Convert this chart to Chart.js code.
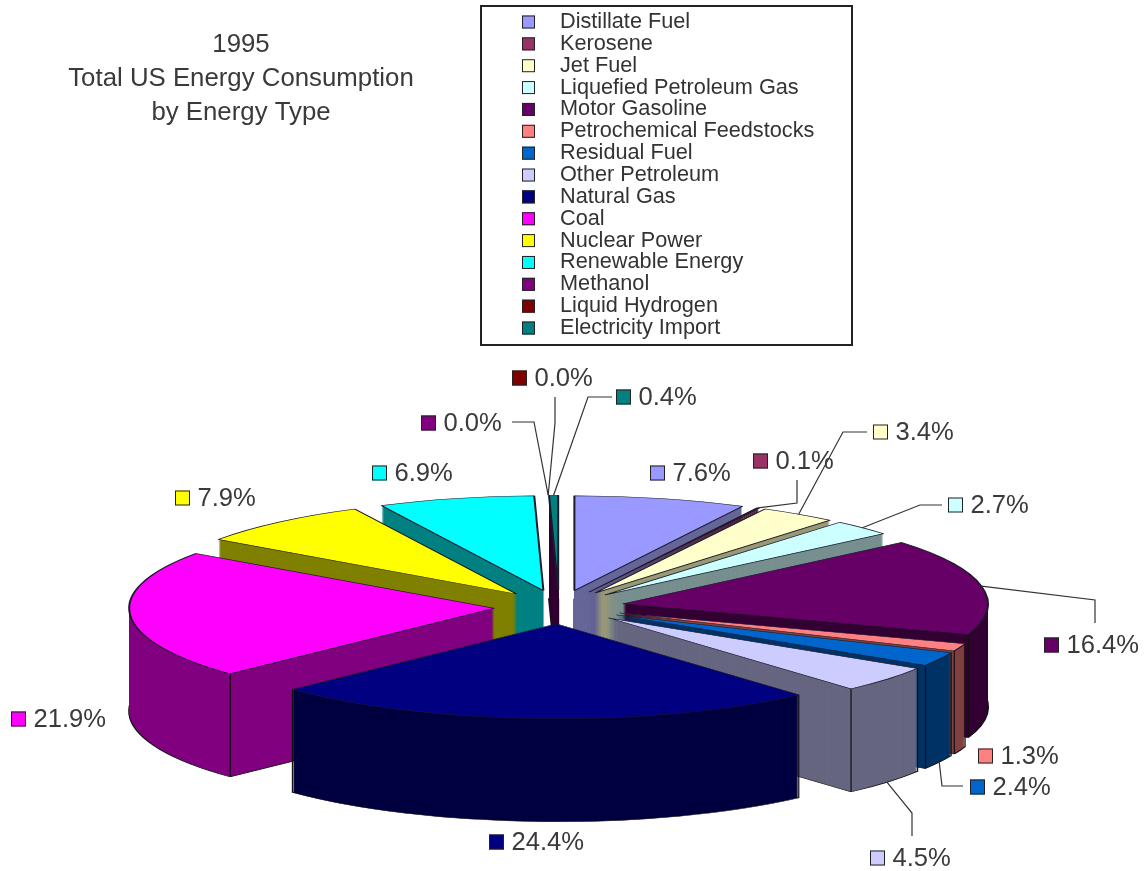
<!DOCTYPE html>
<html>
<head>
<meta charset="utf-8">
<style>html,body{margin:0;padding:0;background:#fff}canvas{display:block}</style>
<script src="https://cdn.jsdelivr.net/npm/chart.js@4"></script>
</head>
<body>
<canvas id="c" width="1147" height="871"></canvas>
<script>
const categories = ["Distillate Fuel","Kerosene","Jet Fuel","Liquefied Petroleum Gas","Motor Gasoline","Petrochemical Feedstocks","Residual Fuel","Other Petroleum","Natural Gas","Coal","Nuclear Power","Renewable Energy","Methanol","Liquid Hydrogen","Electricity Import"];
const shares = [7.6,0.1,3.4,2.7,16.4,1.3,2.4,4.5,24.4,21.9,7.9,6.9,0.0,0.0,0.4];
const topColors = ["#9999FF","#993366","#FFFFCC","#CCFFFF","#660066","#FF8080","#0066CC","#CCCCFF","#000080","#FF00FF","#FFFF00","#00FFFF","#800080","#800000","#008080"];
const wallColors = ["#666699","#4D1A33","#999977","#778F8F","#330033","#804040","#003366","#666680","#000040","#800080","#808000","#008080","#400040","#400000","#330033"];
const titleLines = ["1995","Total US Energy Consumption","by Energy Type"];

// Page layout of the annotation layer (label placement, elbow of each leader line)
const PIE = {cx:559, cy:607, radius:365, squash:0.26, explode:65, depth:103};
const LEGEND_BOX = {x:481, y:6, w:371, h:339, swatchX:522, swatchSize:13, textX:560, firstRow:22, pitch:21.86};
const labelAt = [[650,473],[753,461],[873,432],[948,505],[1044,645],[978,756],[970,787],[870,858],[489,842],[11,719],[175,498],[372,473],[421,423],[512,378],[616,397]];
const leaders = {
  1:[[797,503],[797,480]],
  2:[[843,432],[867,432]],
  3:[[920,505],[942,505]],
  4:[[1095,600],[1095,623]],
  6:[[942,786],[963,786]],
  7:[[912,813],[912,836]],
  12:[[534,422],[512,422]],
  13:[[555,423],[555,397]],
  14:[[588,397],[612,397]]
};

function midOf(arc){ return (arc.startAngle + arc.endAngle) / 2; }
function placeFace(ctx, arc, dy){
  const mid = midOf(arc);
  ctx.translate(PIE.cx + PIE.explode*Math.cos(mid), PIE.cy + PIE.explode*Math.sin(mid)*PIE.squash + dy);
  ctx.scale(1, PIE.squash);
  ctx.translate(-arc.x, -arc.y);
}
function drawWith(arc, ctx, over){
  const o = arc.options;
  arc.options = Object.assign({}, o, over);
  arc.draw(ctx);
  arc.options = o;
}
function rim(arc, angle){
  const mid = midOf(arc);
  return {
    x: PIE.cx + PIE.explode*Math.cos(mid) + PIE.radius*Math.cos(angle),
    y: PIE.cy + (PIE.explode*Math.sin(mid) + PIE.radius*Math.sin(angle))*PIE.squash
  };
}

const pie3d = {
  id:'pie3d',
  afterLayout(chart){
    const t = chart.titleBlock;
    t.left = 0; t.right = 482; t.width = 482; t.top = 28;
    const l = chart.legend, lab = l.options.labels, fs = lab.font.size;
    const h = l.bottom - l.top;
    l.left = LEGEND_BOX.textX - lab.boxWidth - fs/2 - lab.padding; l.right = l.left + 320;
    l.top = LEGEND_BOX.firstRow - fs/2 - lab.padding; l.bottom = l.top + h;
  },
  beforeDatasetsDraw(chart){
    const ctx = chart.ctx;
    const arcs = chart.getDatasetMeta(0).data;
    const order = arcs.map((a,i)=>i).filter(i=>shares[i]>0).sort((p,q)=>Math.sin(midOf(arcs[p])) - Math.sin(midOf(arcs[q])));
    order.forEach(i=>{
      const arc = arcs[i];
      for(let dy=PIE.depth; dy>=1; dy--){
        ctx.save();
        placeFace(ctx, arc, dy);
        drawWith(arc, ctx, dy===PIE.depth
          ? {backgroundColor:wallColors[i], borderColor:'#111', borderWidth:2}
          : {backgroundColor:wallColors[i], borderColor:wallColors[i], borderWidth:0});
        ctx.restore();
      }
      [arc.startAngle, arc.endAngle].forEach(a=>{
        if(Math.sin(a)>0){
          const p = rim(arc,a);
          ctx.save();
          ctx.strokeStyle='#111'; ctx.lineWidth=1.2;
          ctx.beginPath(); ctx.moveTo(p.x,p.y); ctx.lineTo(p.x,p.y+PIE.depth); ctx.stroke();
          ctx.restore();
        }
      });
      ctx.save();
      placeFace(ctx, arc, 0);
      arc.draw(ctx);
      ctx.restore();
    });
    return false;
  },
  afterDraw(chart){
    const ctx = chart.ctx;
    const arcs = chart.getDatasetMeta(0).data;
    ctx.save();
    // legend frame and swatches
    ctx.strokeStyle='#222'; ctx.lineWidth=2;
    ctx.strokeRect(LEGEND_BOX.x, LEGEND_BOX.y, LEGEND_BOX.w, LEGEND_BOX.h);
    categories.forEach((c,i)=>{
      const s = LEGEND_BOX.swatchSize, y = LEGEND_BOX.firstRow + i*LEGEND_BOX.pitch;
      ctx.fillStyle=topColors[i]; ctx.strokeStyle='#222'; ctx.lineWidth=1;
      ctx.fillRect(LEGEND_BOX.swatchX, y-s/2, s, s);
      ctx.strokeRect(LEGEND_BOX.swatchX+.5, y-s/2+.5, s-1, s-1);
    });
    // leader lines
    ctx.strokeStyle='#333'; ctx.lineWidth=1.2;
    Object.keys(leaders).forEach(k=>{
      const i=+k, arc=arcs[i], mid=midOf(arc);
      const p=rim(arc,mid);
      ctx.beginPath();
      ctx.moveTo(p.x, p.y + (Math.sin(mid)>0?PIE.depth:0));
      leaders[k].forEach(q=>ctx.lineTo(q[0],q[1]));
      ctx.stroke();
    });
    // percentage labels
    ctx.font='25.6px "Liberation Sans"';
    ctx.textBaseline='middle';
    shares.forEach((v,i)=>{
      const [x,y]=labelAt[i];
      ctx.fillStyle=topColors[i]; ctx.strokeStyle='#222'; ctx.lineWidth=1;
      ctx.fillRect(x,y-7.5,15,15);
      ctx.strokeRect(x+.5,y-7,14,14);
      ctx.fillStyle='#3a3a3a';
      ctx.fillText(v.toFixed(1)+'%', x+22.5, y+1);
    });
    ctx.restore();
  }
};

new Chart(document.getElementById('c'),{
  type:'pie',
  data:{labels:categories,datasets:[{
    data:shares,
    backgroundColor:topColors,
    borderColor:'#1a1a2a',
    borderWidth:2,
    radius:PIE.radius
  }]},
  options:{
    responsive:false,
    animation:false,
    events:[],
    radius:PIE.radius,
    layout:{padding:0},
    plugins:{
      tooltip:{enabled:false},
      title:{display:true,text:titleLines,color:'#3a3a3a',font:{family:'"Liberation Sans"',size:25.8,weight:'normal',lineHeight:1.32},padding:0},
      legend:{
        display:true,position:'right',align:'start',
        labels:{
          color:'#333',
          font:{family:'"Liberation Sans"',size:21.7},
          boxWidth:29,boxHeight:12,padding:0.16,
          generateLabels(chart){
            return categories.map((c,i)=>({text:c,fillStyle:'rgba(0,0,0,0)',strokeStyle:'rgba(0,0,0,0)',lineWidth:0,index:i,fontColor:'#333'}));
          }
        }
      }
    }
  },
  plugins:[pie3d]
});
</script>
</body>
</html>
